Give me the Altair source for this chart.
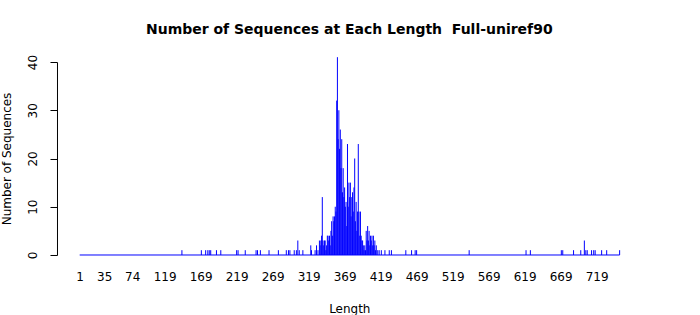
import altair as alt
import pandas as pd

# Sequence lengths with non-zero counts, and their counts
lengths = [143, 170, 176, 179, 181, 183, 191, 197, 219, 221, 231, 246, 248, 252,
           264, 277, 288, 291, 293, 299, 302, 304, 306, 311,
           322, 323, 328, 330, 332, 334, 335, 336, 337, 338, 339, 340, 341, 342,
           343, 344, 345, 346, 347, 348, 349, 350, 351, 352, 353, 354, 355, 356,
           357, 358, 359, 360, 361, 362, 363, 364, 365, 366, 367, 368, 369, 370,
           371, 372, 373, 374, 375, 376, 377, 378, 379, 380, 381, 382, 383, 384,
           385, 386, 387, 388, 389, 390, 391, 392, 393, 394, 395, 396, 397, 398,
           399, 400, 401, 402, 403, 404, 405, 406, 407, 408, 409, 410, 411, 412,
           413, 415, 417, 420, 425, 431, 434, 454, 462, 467, 469, 542, 621, 627,
           670, 672, 687, 697, 702, 704, 706, 712, 715, 717, 726, 733, 751]
counts = [1, 1, 1, 1, 1, 1, 1, 1, 1, 1, 1, 1, 1, 1,
          1, 1, 1, 1, 1, 1, 1, 3, 1, 1,
          2, 1, 1, 2, 1, 3, 2, 3, 4, 12, 3, 2, 3, 3,
          1, 2, 4, 4, 3, 4, 2, 5, 7, 4, 8, 7, 8, 10,
          9, 32, 41, 24, 30, 22, 26, 18, 24, 13, 18, 12, 14, 10,
          11, 6, 23, 10, 15, 12, 15, 8, 12, 13, 9, 14, 20, 7,
          11, 5, 9, 23, 9, 4, 9, 4, 3, 3, 2, 1, 2, 1,
          5, 3, 6, 3, 5, 2, 4, 3, 4, 2, 4, 2, 3, 1,
          2, 1, 1, 1, 1, 1, 1, 1, 1, 1, 1, 1, 1, 1,
          1, 1, 1, 1, 3, 1, 1, 1, 1, 1, 1, 1, 1]

x_tick_values = [1, 35, 74, 119, 169, 219, 269, 319, 369, 419, 469, 519, 569, 619, 669, 719]
y_tick_values = [0, 10, 20, 30, 40]
length_first = 1
length_last = 751

df = pd.DataFrame({"Length": lengths, "Count": counts})
base_df = pd.DataFrame({"start": [length_first], "end": [length_last], "zero": [0]})

FONT = "DejaVu Sans"
xscale = alt.Scale(domain=[-30.5, 781.5], nice=False, zero=False)
yscale = alt.Scale(domain=[0, 40], nice=False)

xaxis = alt.Axis(values=x_tick_values, title="Length", domain=False, ticks=False,
                 tickSize=0, grid=False, labelPadding=17, labelFontSize=12,
                 labelFont=FONT, labelColor="black", labelFlush=False,
                 labelOverlap=False, titleFont=FONT, titleFontSize=12,
                 titleFontWeight="normal", titleColor="black", titlePadding=21)
yaxis = alt.Axis(values=y_tick_values, title="Number of Sequences", grid=False,
                 domainColor="black", tickColor="black", tickSize=7,
                 labelAngle=270, labelAlign="center", labelBaseline="bottom",
                 labelPadding=10, labelFontSize=12, labelFont=FONT,
                 labelColor="black", labelFlush=False, labelOverlap=False,
                 titleFont=FONT, titleFontSize=12, titleFontWeight="normal",
                 titleColor="black", titlePadding=13)

baseline = alt.Chart(base_df).mark_rule(color="blue", strokeWidth=1).encode(
    x=alt.X("start:Q", scale=xscale, axis=xaxis),
    x2="end:Q",
    y=alt.Y("zero:Q", scale=yscale, axis=yaxis),
)

bars = alt.Chart(df).transform_calculate(zero="0").mark_rule(
    color="blue", strokeWidth=1
).encode(
    x=alt.X("Length:Q", scale=xscale, axis=xaxis),
    y=alt.Y("Count:Q", scale=yscale, axis=yaxis),
    y2="zero:Q",
)

chart = alt.layer(baseline, bars).properties(
    width=584.6,
    height=193,
    title=alt.TitleParams(
        "Number of Sequences at Each Length\u00a0 Full-uniref90",
        font=FONT, fontSize=14, fontWeight="bold", color="black",
        anchor="middle", offset=17,
    ),
    autosize=alt.AutoSizeParams(type="none"),
    padding={"left": 57, "top": 62, "right": 58, "bottom": 60},
    background="white",
).configure_view(stroke=None)

chart.save("out.html", embed_options={"renderer": "svg", "actions": False})
